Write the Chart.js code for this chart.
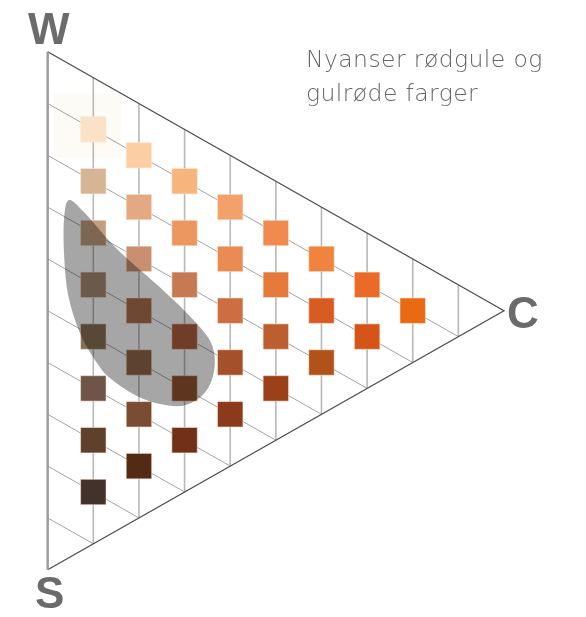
<!DOCTYPE html>
<html>
<head>
<meta charset="utf-8">
<script src="https://cdn.jsdelivr.net/npm/chart.js@4"></script>
<style>
  html, body { margin: 0; padding: 0; background: #fff; }
  canvas { display: block; }
</style>
</head>
<body>
<canvas id="ncsChart" width="586" height="617"></canvas>
<script>
// NCS triangle: x = chromaticness, y = 100 - blackness - chromaticness / 2
const chromaticness = [10,10,10,10,10,10,10,10, 20,20,20,20,20,20,20, 30,30,30,30,30,30, 40,40,40,40,40, 50,50,50,50, 60,60,60, 70,70, 80];
const blackness     = [10,20,30,40,50,60,70,80, 10,20,30,40,50,60,70, 10,20,30,40,50,60, 10,20,30,40,50, 10,20,30,40, 10,20,30, 10,20, 10];
const swatchColours = [
    '#fbe1c6','#d6b594','#c09e7e','#a58a72','#876f56','#705448','#5e402c','#43322b',
    '#fccfa3','#e2a982','#c88f70','#a96f4d','#91664a','#7a4c33','#542a14',
    '#f7b47c','#eb975f','#c67a53','#ac5f3e','#915231','#723018',
    '#f4a06a','#e98b52','#cc6d42','#a4502a','#8c3a1c',
    '#f08a4e','#e67a3a','#bd5e30','#9c4019',
    '#f0843e','#d85c22','#b0521a',
    '#ea6a28','#d4541a',
    '#ea6a14'
];
const gridSteps = [10, 20, 30, 40, 50, 60, 70, 80, 90];
const cornerLabels = ['W', 'S', 'C'];
const titleLines = ['Nyanser rødgule og', 'gulrøde farger'];

// highlighted area (chromaticness / blackness outline)
const areaChroma = [4.7, 8.2, 15.4, 25.3, 32.3, 36.0, 36.5, 34.5, 30.1, 24.6, 19.1, 13.7, 10.8, 7.1, 4.5, 3.6, 3.6];
const areaBlack  = [26.3, 27.1, 30.6, 33.4, 36.0, 38.6, 43.2, 48.5, 53.2, 55.7, 56.7, 56.2, 54.7, 50.8, 44.8, 37.5, 30.3];

const toY = (c, s) => 100 - s - c / 2;

const datasets = [];

// swatches
datasets.push({
    data: chromaticness.map((c, i) => ({ x: c, y: toY(c, blackness[i]) })),
    pointStyle: 'rect',
    pointRadius: 18,
    pointHoverRadius: 18,
    backgroundColor: swatchColours,
    borderColor: 'rgba(255,235,220,0.55)',
    borderWidth: 1,
    showLine: false,
    order: 1
});

// constant blackness lines
gridSteps.forEach(s => {
    datasets.push({
        data: [{ x: 0, y: toY(0, s) }, { x: 100 - s, y: toY(100 - s, s) }],
        showLine: true, pointRadius: 0, borderColor: '#a3a3a3', borderWidth: 1, order: 3
    });
});

// constant chromaticness lines
gridSteps.forEach(c => {
    datasets.push({
        data: [{ x: c, y: toY(c, 0) }, { x: c, y: toY(c, 100 - c) }],
        showLine: true, pointRadius: 0, borderColor: '#b8b8b8', borderWidth: 1.6, order: 3
    });
});

// triangle edges
datasets.push({
    data: [{ x: 0, y: 100 }, { x: 0, y: 0 }],
    showLine: true, pointRadius: 0, borderColor: '#9a9a9a', borderWidth: 2.4, order: 2
});
datasets.push({
    data: [{ x: 0, y: 100 }, { x: 100, y: 50 }, { x: 0, y: 0 }],
    showLine: true, pointRadius: 0, borderColor: '#4a4a4a', borderWidth: 1.2, order: 2
});

const decorations = {
    id: 'decorations',
    beforeDatasetsDraw(chart) {
        const { ctx, scales: { x, y } } = chart;
        // faint highlight behind the lightest swatch
        const cx = x.getPixelForValue(10), cy = y.getPixelForValue(toY(10, 10));
        ctx.save();
        ctx.fillStyle = '#fdfbf6';
        ctx.fillRect(cx - 39, cy - 36, 67, 64);
        ctx.restore();
    },
    afterDatasetsDraw(chart) {
        const { ctx, scales: { x, y } } = chart;
        const pts = areaChroma.map((c, i) => [x.getPixelForValue(c), y.getPixelForValue(toY(c, areaBlack[i]))]);
        const n = pts.length;
        ctx.save();
        ctx.beginPath();
        ctx.moveTo(pts[0][0], pts[0][1]);
        for (let i = 0; i < n; i++) {
            const p0 = pts[(i - 1 + n) % n], p1 = pts[i], p2 = pts[(i + 1) % n], p3 = pts[(i + 2) % n];
            ctx.bezierCurveTo(
                p1[0] + (p2[0] - p0[0]) / 6, p1[1] + (p2[1] - p0[1]) / 6,
                p2[0] - (p3[0] - p1[0]) / 6, p2[1] - (p3[1] - p1[1]) / 6,
                p2[0], p2[1]);
        }
        ctx.closePath();
        ctx.fillStyle = 'rgba(0,0,0,0.35)';
        ctx.fill();

        // corner letters
        ctx.fillStyle = '#6b6b6b';
        ctx.font = 'bold 44px "Liberation Sans", Arial, sans-serif';
        ctx.textBaseline = 'alphabetic';
        ctx.textAlign = 'center';
        ctx.fillText(cornerLabels[0], x.getPixelForValue(0) + 1, y.getPixelForValue(100) - 8);
        ctx.fillText(cornerLabels[1], x.getPixelForValue(0) + 2, y.getPixelForValue(0) + 38);
        ctx.textAlign = 'left';
        ctx.fillText(cornerLabels[2], x.getPixelForValue(100) + 3, y.getPixelForValue(50) + 17);

        // heading
        ctx.fillStyle = '#666666';
        ctx.font = '200 23.5px "DejaVu Sans", Lato, sans-serif';
        ctx.letterSpacing = '0.4px';
        titleLines.forEach((line, i) => ctx.fillText(line, 306, 67 + i * 33.5));
        ctx.restore();
    }
};

new Chart(document.getElementById('ncsChart'), {
    type: 'scatter',
    data: { datasets },
    options: {
        responsive: false,
        animation: false,
        layout: { padding: 0, autoPadding: false },
        events: [],
        plugins: { legend: { display: false }, tooltip: { enabled: false } },
        scales: {
            x: { type: 'linear', display: false, min: -10.45, max: 117.97 },
            y: { type: 'linear', display: false, min: -9.13, max: 109.98 }
        }
    },
    plugins: [decorations]
});
</script>
</body>
</html>
